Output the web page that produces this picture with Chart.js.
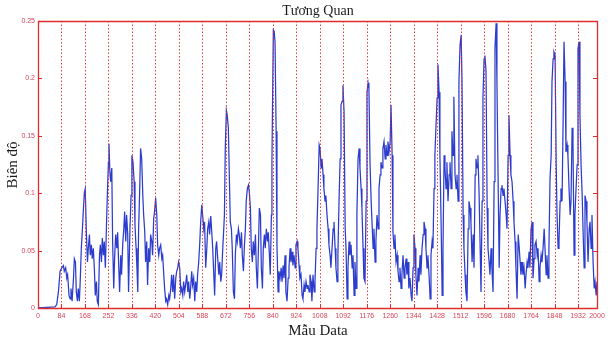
<!DOCTYPE html>
<html><head><meta charset="utf-8">
<script src="https://cdn.jsdelivr.net/npm/chart.js@4.4.0/dist/chart.umd.min.js"></script>
<style>html,body{margin:0;padding:0;background:#fff;}#wrap{width:611px;height:341px;position:relative;}</style>
</head><body><div id="wrap"><canvas id="c" width="611" height="341"></canvas></div>
<script>
const titleText = 'Tương Quan';
const xTitle = 'Mẫu Data';
const yTitle = 'Biên độ';
const xTickValues = [0,84,168,252,336,420,504,588,672,756,840,924,1008,1092,1176,1260,1344,1428,1512,1596,1680,1764,1848,1932,2000];
const yTickValues = [0,0.05,0.1,0.15,0.2,0.25];
const yTickLabels = ['0','0.05','0.1','0.15','0.2','0.25'];

const sampleIndex = [
0,61,67,73,79,85,91,94,99,103,
106,111,115,118,122,127,130,134,137,141,
144,148,151,155,159,162,166,169,173,177,
180,184,187,191,194,198,202,205,209,212,
216,220,223,227,230,234,237,241,245,248,
252,254,257,260,264,267,271,274,278,282,
285,289,292,296,299,303,307,310,314,317,
321,324,
329,333,336,340,344,347,351,354,
357,360,364,367,371,375,378,382,385,389,
392,396,400,403,407,410,414,417,421,425,
428,432,435,439,443,446,450,453,457,460,
464,468,471,475,478,482,485,489,493,496,
500,503,507,511,514,518,521,525,528,532,
536,539,543,546,550,553,557,561,564,568,
571,575,579,582,586,589,593,596,600,604,
607,611,614,618,621,625,629,632,636,639,
643,647,650,654,657,661,664,
667,670,674,677,681,685,688,692,695,699,
703,706,710,713,717,720,724,728,731,735,
738,742,745,749,753,756,760,763,767,770,
774,778,781,785,788,792,796,799,803,806,
810,813,817,821,824,828,831,835,837,840,
842,845,848,852,855,859,862,866,870,873,
877,880,884,887,891,895,898,902,905,909,
912,916,920,923,927,930,934,937,941,945,
948,952,955,959,963,966,970,973,977,980,
984,988,991,995,998,1002,1006,
1009,1013,1016,1020,1023,1027,1030,1034,1038,1041,
1045,1048,1052,1056,1059,1063,1066,1070,1073,1077,
1081,1084,1088,1091,1095,1099,1102,1106,1109,1113,
1116,1120,1124,1127,1131,1134,1138,1141,1145,1149,
1152,1156,1159,1163,1166,1170,1174,1177,1181,1184,
1188,1192,1195,1199,1202,1206,1209,1213,1217,1220,
1224,1227,1231,1234,1238,1242,1245,1249,1252,1256,
1260,1263,1267,1270,1274,1277,1281,1285,1288,1292,
1295,1299,1302,1306,1310,1313,1317,1320,1324,1327,
1331,1335,1338,1342,1345,
1349,1352,1356,1360,1363,1367,1370,1374,1378,1381,
1385,1388,1392,1395,1399,1403,1406,1410,1413,1417,
1420,1424,1428,1431,1435,1438,1442,1446,1449,1453,
1456,1460,1463,1467,1471,1474,1478,1481,1485,1488,
1492,1496,1499,1503,1506,1510,1514,1517,1521,1524,
1528,1531,1535,1539,1542,1546,1549,1553,1557,1560,
1564,1567,1571,1574,1578,1582,1585,1589,1592,1596,
1599,1603,1607,1610,1614,1617,1621,1624,1628,1632,
1635,1639,1642,1646,1650,1653,1657,1660,1664,1667,
1671,1675,1678,1682,1685,
1689,1692,1696,1700,1703,1707,1710,1714,1718,1721,
1725,1728,1732,1735,1739,1743,1746,1750,1753,1757,
1760,1764,1768,1771,1775,1778,1782,1786,1789,1793,
1796,1800,1803,1807,1811,1814,1818,1821,1825,1828,
1832,1836,1839,1843,1846,1850,1854,1857,1861,1864,
1868,1871,1875,1879,1882,1886,1889,1893,1896,1900,
1904,1907,1911,1914,1918,1921,1925,1929,1932,1936,
1939,1943,1947,1950,1954,1957,1961,1964,1968,1972,
1975,1979,1982,1986,1990,1993,1997,2000
];

const amplitude = [
0,0.001,0.003,0.014,0.032,0.035,0.037,0.032,0.035,0.026,
0.029,0.011,0.008,0.017,0.006,0.026,0.043,0.040,0.014,0.006,
0.017,0.006,0.023,0.052,0.069,0.084,0.101,0.104,0.066,0.040,
0.052,0.064,0.046,0.055,0.043,0.052,0.032,0.011,0.023,0.006,
0.003,0.046,0.055,0.040,0.061,0.046,0.058,0.035,0.072,0.098,
0.127,0.143,0.119,0.110,0.122,0.058,0.017,0.043,0.064,0.052,
0.066,0.035,0.014,0.046,0.029,0.055,0.069,0.084,0.058,0.081,
0.064,0.014,
0.069,0.098,0.133,0.127,0.110,0.072,0.052,0.035,
0.014,0.069,0.104,0.139,0.130,0.098,0.081,0.066,0.040,0.058,
0.020,0.052,0.040,0.064,0.058,0.046,0.078,0.084,0.096,0.081,
0.055,0.046,0.052,0.055,0.043,0.046,0.029,0.017,0.006,0.008,
0.003,0.011,0.008,0.017,0.029,0.014,0.029,0.008,0.026,0.032,
0.035,0.040,0.035,0.014,0.017,0.011,0.023,0.014,0.020,0.029,
0.014,0.023,0.008,0.017,0.032,0.020,0.026,0.006,0.023,0.014,
0.029,0.040,0.058,0.075,0.090,0.081,0.069,0.075,0.035,0.052,
0.069,0.075,0.064,0.080,0.069,0.052,0.029,0.011,0.052,0.058,
0.043,0.029,0.040,0.023,0.029,0.052,0.066,
0.081,0.139,0.172,0.168,0.157,0.110,0.075,0.069,0.052,0.014,
0.008,0.046,0.064,0.058,0.069,0.064,0.052,0.066,0.046,0.032,
0.052,0.069,0.093,0.104,0.107,0.101,0.087,0.052,0.040,0.058,
0.046,0.064,0.035,0.017,0.046,0.087,0.081,0.035,0.017,0.052,
0.064,0.052,0.069,0.058,0.066,0.046,0.029,0.081,0.127,0.197,
0.242,0.241,0.232,0.154,0.055,0.014,0.032,0.026,0.035,0.023,
0.037,0.026,0.046,0.014,0.006,0.026,0.035,0.052,0.040,0.049,
0.037,0.046,0.035,0.055,0.058,0.052,0.037,0.026,0.029,0.011,
0.008,0.020,0.014,0.023,0.017,0.020,0.014,0.029,0.023,0.006,
0.029,0.014,0.023,0.052,0.069,0.104,0.142,
0.139,0.122,0.130,0.116,0.104,0.093,0.098,0.081,0.069,0.055,
0.046,0.035,0.052,0.069,0.075,0.052,0.035,0.023,0.046,0.093,
0.130,0.177,0.180,0.194,0.171,0.069,0.052,0.008,0.035,0.058,
0.046,0.055,0.035,0.046,0.011,0.040,0.017,0.081,0.130,0.139,
0.122,0.104,0.087,0.052,0.026,0.023,0.093,0.188,0.196,0.191,
0.125,0.093,0.075,0.052,0.069,0.040,0.058,0.081,0.069,0.104,
0.116,0.127,0.122,0.139,0.145,0.130,0.142,0.133,0.145,0.136,
0.145,0.177,0.133,0.066,0.052,0.064,0.040,0.046,0.032,0.023,
0.035,0.017,0.029,0.046,0.026,0.035,0.043,0.029,0.040,0.017,
0.026,0.011,0.006,0.035,0.064,
0.052,0.029,0.011,0.035,0.023,0.046,0.029,0.052,0.064,0.075,
0.069,0.052,0.035,0.046,0.029,0.008,0.046,0.058,0.052,0.104,
0.133,0.159,0.183,0.212,0.188,0.133,0.078,0.011,0.052,0.133,
0.122,0.104,0.127,0.093,0.116,0.127,0.104,0.154,0.133,0.184,
0.116,0.104,0.116,0.093,0.197,0.229,0.238,0.197,0.081,0.052,
0.029,0.014,0.006,0.069,0.093,0.087,0.075,0.040,0.064,0.035,
0.116,0.130,0.122,0.133,0.101,0.052,0.014,0.093,0.183,0.217,
0.220,0.206,0.087,0.052,0.040,0.029,0.052,0.035,0.014,0.110,
0.226,0.248,0.197,0.116,0.035,0.081,0.104,0.107,0.098,0.104,
0.093,0.081,0.069,0.133,0.168,
0.133,0.116,0.110,0.093,0.075,0.058,0.035,0.008,0.064,0.055,
0.040,0.029,0.040,0.029,0.035,0.017,0.029,0.040,0.035,0.049,
0.035,0.069,0.075,0.026,0.043,0.055,0.058,0.046,0.052,0.023,
0.035,0.046,0.040,0.052,0.069,0.052,0.029,0.046,0.026,0.052,
0.113,0.133,0.197,0.217,0.223,0.220,0.125,0.081,0.052,0.058,
0.093,0.104,0.093,0.168,0.232,0.197,0.136,0.142,0.133,0.104,
0.081,0.093,0.157,0.145,0.046,0.081,0.104,0.125,0.226,0.232,
0.168,0.125,0.098,0.069,0.035,0.098,0.093,0.075,0.040,0.069,
0.075,0.052,0.081,0.040,0.017,0.023,0.011,0.023
];

const lineColor = '#2c3ccc';
const frameColor = '#e02c2c';
const gridColor = 'rgba(226,40,50,0.9)';
const tickLabelColor = '#d8455a';

const points = sampleIndex.map((s, i) => ({x: s, y: amplitude[i]}));

const framePlugin = {
  id: 'frame',
  afterDatasetsDraw(chart) {
    const {ctx, chartArea: a, scales: {x, y}} = chart;
    ctx.save();
    ctx.lineWidth = 1;
    ctx.strokeStyle = gridColor;
    ctx.setLineDash([1.5, 2]);
    xTickValues.forEach(v => {
      if (v <= 0 || v >= 2000) return;
      const px = Math.round(x.getPixelForValue(v)) + 0.5;
      ctx.beginPath(); ctx.moveTo(px, a.top); ctx.lineTo(px, a.bottom); ctx.stroke();
    });
    ctx.setLineDash([]);
    ctx.strokeStyle = frameColor;
    xTickValues.forEach(v => {
      const px = Math.round(x.getPixelForValue(v)) + 0.5;
      ctx.beginPath(); ctx.moveTo(px, a.bottom); ctx.lineTo(px, a.bottom - 4); ctx.stroke();
    });
    yTickValues.forEach(v => {
      const py = Math.round(y.getPixelForValue(v)) + 0.5;
      ctx.beginPath(); ctx.moveTo(a.left, py); ctx.lineTo(a.left + 4, py); ctx.stroke();
      ctx.beginPath(); ctx.moveTo(a.right, py); ctx.lineTo(a.right - 4, py); ctx.stroke();
    });
    ctx.lineWidth = 1.3;
    ctx.beginPath();
    ctx.rect(Math.round(a.left) + 0.5, Math.round(a.top) + 0.5, Math.round(a.right - a.left), Math.round(a.bottom - a.top));
    ctx.stroke();
    ctx.restore();
  },
  afterDraw(chart) {
    const {ctx} = chart;
    ctx.save();
    ctx.fillStyle = '#1a1a1a';
    ctx.textAlign = 'center';
    ctx.textBaseline = 'middle';
    ctx.font = '14px "Liberation Serif", "DejaVu Serif", serif';
    ctx.fillText(titleText, 318, 11);
    ctx.font = '15px "Liberation Serif", "DejaVu Serif", serif';
    ctx.fillText(xTitle, 318, 331);
    ctx.translate(13, 165);
    ctx.rotate(-Math.PI / 2);
    ctx.fillText(yTitle, 0, 0);
    ctx.restore();
  }
};

new Chart(document.getElementById('c'), {
  type: 'line',
  data: {
    datasets: [{
      data: points,
      borderColor: lineColor,
      borderWidth: 1.25,
      pointRadius: 0,
      tension: 0,
      fill: false
    }]
  },
  options: {
    responsive: false,
    devicePixelRatio: 1,
    animation: false,
    layout: {padding: {left: 0, right: 14, top: 21, bottom: 0}},
    plugins: {legend: {display: false}, title: {display: false}, tooltip: {enabled: false}},
    scales: {
      x: {
        type: 'linear', min: 0, max: 2000,
        afterBuildTicks: s => { s.ticks = xTickValues.map(v => ({value: v})); },
        afterFit: s => { s.height = 33; },
        grid: {display: false, drawTicks: false},
        border: {display: false},
        ticks: {color: tickLabelColor, font: {size: 7, family: '"Liberation Sans", Arial, sans-serif'}, padding: 4, maxRotation: 0, autoSkip: false, callback: v => String(v)}
      },
      y: {
        type: 'linear', min: 0, max: 0.25,
        afterBuildTicks: s => { s.ticks = yTickValues.map(v => ({value: v})); },
        afterFit: s => { s.width = 38; },
        grid: {display: false, drawTicks: false},
        border: {display: false},
        ticks: {color: tickLabelColor, font: {size: 7, family: '"Liberation Sans", Arial, sans-serif'}, padding: 3, callback: (v) => { const i = yTickValues.findIndex(t => Math.abs(t - v) < 1e-9); return i >= 0 ? yTickLabels[i] : ''; }}
      }
    }
  },
  plugins: [framePlugin]
});
</script>
</body></html>
